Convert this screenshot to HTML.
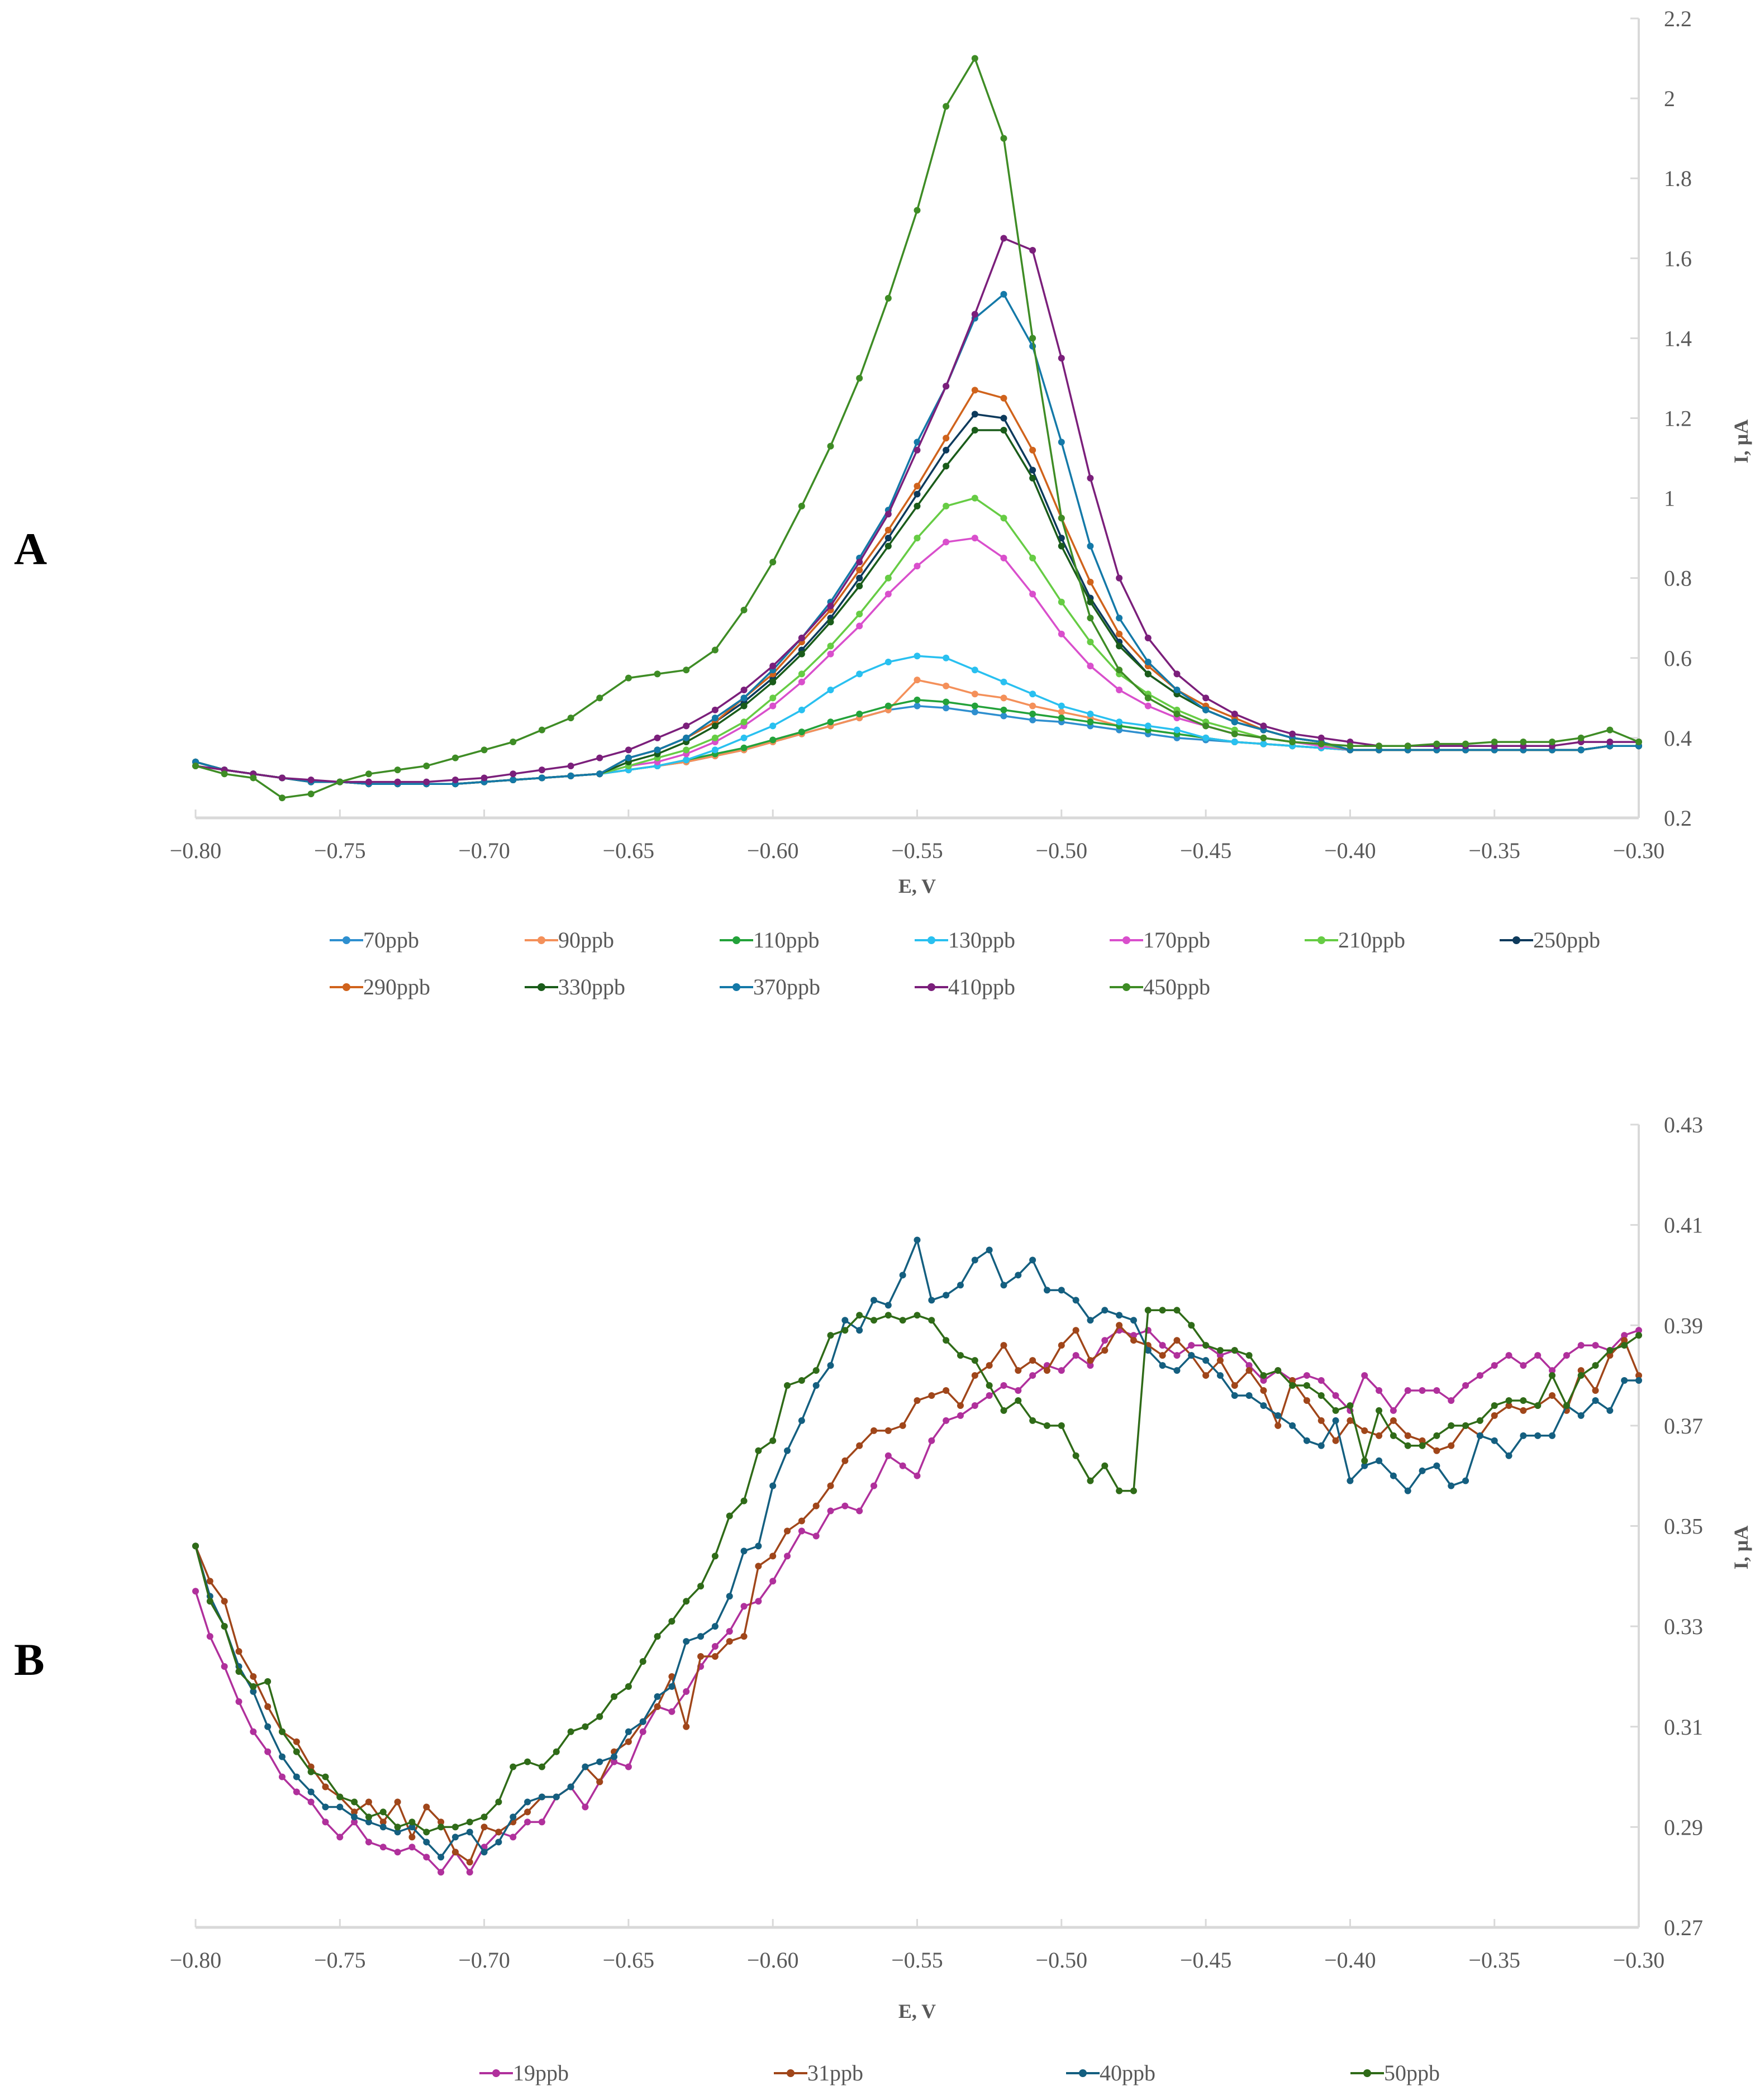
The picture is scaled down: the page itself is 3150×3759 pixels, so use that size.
<!DOCTYPE html>
<html><head><meta charset="utf-8"><style>
html,body{margin:0;padding:0;background:#fff}
svg{display:block}
text{font-family:"Liberation Serif",serif}
</style></head><body>
<svg id="chart" width="3150" height="3759" viewBox="0 0 3150 3759" xmlns="http://www.w3.org/2000/svg"></svg>
<script>
// ---------- Panel A data (E from -0.80 to -0.30, step 0.01) ----------
const seriesNamesA = ["70ppb","90ppb","110ppb","130ppb","170ppb","210ppb","250ppb","290ppb","330ppb","370ppb","410ppb","450ppb"];
const colorsA = ["#2e8fcf","#f4905a","#23a23a","#29c0f0","#d94fcc","#66cc44","#0d3a5c","#d0631c","#1a5c1a","#1479a8","#7b1f7b","#3e8c25"];
const headA = [.34,.32,.31,.30,.29,.29,.285,.285,.285,.285,.29,.295,.30,.305,.31];
const tailA = [.37,.37,.37,.37,.37,.37,.37,.37,.37,.38,.38];
const mid70 = [.32,.33,.34,.355,.37,.39,.41,.43,.45,.47,.48,.475,.465,.455,.445,.44,.43,.42,.41,.40,.395,.39,.385,.38,.375];
const mid90 = [.32,.33,.34,.355,.37,.39,.41,.43,.45,.47,.545,.53,.51,.50,.48,.465,.45,.43,.42,.41,.40,.39,.385,.38,.375];
const mid110 = [.32,.33,.345,.36,.375,.395,.415,.44,.46,.48,.495,.49,.48,.47,.46,.45,.44,.43,.42,.41,.40,.39,.385,.38,.375];
const mid130 = [.32,.33,.345,.37,.40,.43,.47,.52,.56,.59,.605,.60,.57,.54,.51,.48,.46,.44,.43,.42,.40,.39,.385,.38,.375];
const mid170 = [.33,.34,.36,.39,.43,.48,.54,.61,.68,.76,.83,.89,.90,.85,.76,.66,.58,.52,.48,.45,.43,.41,.40,.39,.38];
const mid210 = [.33,.35,.37,.40,.44,.50,.56,.63,.71,.80,.90,.98,1.0,.95,.85,.74,.64,.56,.51,.47,.44,.42,.40,.39,.385];
const mid250 = [.35,.37,.40,.44,.49,.55,.62,.70,.80,.90,1.01,1.12,1.21,1.20,1.07,.90,.75,.64,.56,.51,.47,.44,.42,.40,.39];
const mid290 = [.35,.37,.40,.44,.50,.56,.64,.72,.82,.92,1.03,1.15,1.27,1.25,1.12,.95,.79,.66,.58,.52,.48,.45,.42,.40,.39];
const mid330 = [.34,.36,.39,.43,.48,.54,.61,.69,.78,.88,.98,1.08,1.17,1.17,1.05,.88,.74,.63,.56,.51,.47,.44,.42,.40,.39];
const mid370 = [.35,.37,.40,.45,.50,.57,.65,.74,.85,.97,1.14,1.28,1.45,1.51,1.38,1.14,.88,.70,.59,.52,.47,.44,.42,.40,.39];
const head410 = [.33,.32,.31,.30,.295,.29,.29,.29,.29,.295,.30,.31,.32,.33,.35];
const mid410 = [.37,.40,.43,.47,.52,.58,.65,.73,.84,.96,1.12,1.28,1.46,1.65,1.62,1.35,1.05,.80,.65,.56,.50,.46,.43,.41,.40];
const tail410 = [.39,.38,.38,.38,.38,.38,.38,.38,.39,.39,.39];
const values450 = [.33,.31,.30,.25,.26,.29,.31,.32,.33,.35,.37,.39,.42,.45,.50,.55,.56,.57,.62,.72,.84,.98,1.13,1.30,1.50,1.72,1.98,2.10,1.90,1.40,.95,.70,.57,.50,.46,.43,.41,.40,.39,.385,.38,.38,.38,.385,.385,.39,.39,.39,.40,.42,.39];
const xTicksA = ["−0.80","−0.75","−0.70","−0.65","−0.60","−0.55","−0.50","−0.45","−0.40","−0.35","−0.30"];
const yTicksA = ["0.2","0.4","0.6","0.8","1","1.2","1.4","1.6","1.8","2","2.2"];

// ---------- Panel B data (E from -0.80 to -0.30, step 0.005) ----------
const seriesNamesB = ["19ppb","31ppb","40ppb","50ppb"];
const colorsB = ["#b0309c","#a0461a","#145f80","#2f6b18"];
const values19 = [.337,.328,.322,.315,.309,.305,.300,.297,.295,.291,.288,.291,.287,.286,.285,.286,.284,.281,.285,.281,.286,.289,.288,.291,.291,.296,.298,.294,.299,.303,.302,.309,.314,.313,.317,.322,.326,.329,.334,.335,.339,.344,.349,.348,.353,.354,.353,.358,.364,.362,.360,.367,.371,.372,.374,.376,.378,.377,.380,.382,.381,.384,.382,.387,.389,.388,.389,.386,.384,.386,.386,.384,.385,.382,.379,.381,.379,.380,.379,.376,.373,.380,.377,.373,.377,.377,.377,.375,.378,.380,.382,.384,.382,.384,.381,.384,.386,.386,.385,.388,.389];
const values31 = [.346,.339,.335,.325,.320,.314,.309,.307,.302,.298,.296,.293,.295,.291,.295,.288,.294,.291,.285,.283,.290,.289,.291,.293,.296,.296,.298,.302,.299,.305,.307,.311,.314,.320,.310,.324,.324,.327,.328,.342,.344,.349,.351,.354,.358,.363,.366,.369,.369,.370,.375,.376,.377,.374,.380,.382,.386,.381,.383,.381,.386,.389,.383,.385,.390,.387,.386,.384,.387,.384,.380,.383,.378,.381,.377,.370,.379,.375,.371,.367,.371,.369,.368,.371,.368,.367,.365,.366,.370,.368,.372,.374,.373,.374,.376,.373,.381,.377,.384,.387,.380];
const values40 = [.346,.336,.330,.322,.317,.310,.304,.300,.297,.294,.294,.292,.291,.290,.289,.290,.287,.284,.288,.289,.285,.287,.292,.295,.296,.296,.298,.302,.303,.304,.309,.311,.316,.318,.327,.328,.330,.336,.345,.346,.358,.365,.371,.378,.382,.391,.389,.395,.394,.400,.407,.395,.396,.398,.403,.405,.398,.400,.403,.397,.397,.395,.391,.393,.392,.391,.385,.382,.381,.384,.383,.380,.376,.376,.374,.372,.370,.367,.366,.371,.359,.362,.363,.360,.357,.361,.362,.358,.359,.368,.367,.364,.368,.368,.368,.374,.372,.375,.373,.379,.379];
const values50 = [.346,.335,.330,.321,.318,.319,.309,.305,.301,.300,.296,.295,.292,.293,.290,.291,.289,.290,.290,.291,.292,.295,.302,.303,.302,.305,.309,.310,.312,.316,.318,.323,.328,.331,.335,.338,.344,.352,.355,.365,.367,.378,.379,.381,.388,.389,.392,.391,.392,.391,.392,.391,.387,.384,.383,.378,.373,.375,.371,.370,.370,.364,.359,.362,.357,.357,.393,.393,.393,.390,.386,.385,.385,.384,.380,.381,.378,.378,.376,.373,.374,.363,.373,.368,.366,.366,.368,.370,.370,.371,.374,.375,.375,.374,.380,.374,.380,.382,.385,.386,.388];
const xTicksB = ["−0.80","−0.75","−0.70","−0.65","−0.60","−0.55","−0.50","−0.45","−0.40","−0.35","−0.30"];
const yTicksB = ["0.27","0.29","0.31","0.33","0.35","0.37","0.39","0.41","0.43"];

const NS = "http://www.w3.org/2000/svg";
const svg = document.getElementById("chart");
function mk(tag, attrs, parent, txt){
  const e = document.createElementNS(NS, tag);
  for (const k in attrs) e.setAttribute(k, attrs[k]);
  if (txt !== undefined) e.textContent = txt;
  (parent || svg).appendChild(e);
  return e;
}
const X0 = 350, X1 = 2933;
const xScale = v => X0 + (v + 0.80) / 0.50 * (X1 - X0);

function drawPanel(cfg){
  const yScale = v => cfg.yBot - (v - cfg.yMin) / (cfg.yMax - cfg.yMin) * (cfg.yBot - cfg.yTop);
  const g = mk("g", {});
  
  
  // axes
  const xa = mk("line", {x1:X0, y1:cfg.yBot, x2:X1, y2:cfg.yBot, stroke:"#d9d9d9", "stroke-width":5}, g);
  
  
  const ya = mk("line", {x1:X1, y1:cfg.yTop, x2:X1, y2:cfg.yBot, stroke:"#d9d9d9", "stroke-width":4}, g);
  
  
  cfg.xTicks.forEach((lab, i) => {
    const xv = xScale(-0.80 + i * 0.05);
    mk("line", {x1:xv, y1:cfg.yBot - 15, x2:xv, y2:cfg.yBot, stroke:"#d9d9d9", "stroke-width":3}, g);
    const t = mk("text", {x:xv, y:cfg.yBot + 72, "text-anchor":"middle", "font-size":40, fill:"#595959"}, g, lab);
    
    
  });
  cfg.yTicks.forEach((lab) => {
    const yv = yScale(parseFloat(lab));
    mk("line", {x1:X1 - 15, y1:yv, x2:X1, y2:yv, stroke:"#d9d9d9", "stroke-width":3}, g);
    const t = mk("text", {x:X1 + 45, y:yv + 14, "text-anchor":"start", "font-size":40, fill:"#595959"}, g, lab);
    
    
  });
  const xt = mk("text", {x:(X0+X1)/2, y:cfg.xTitleY, "text-anchor":"middle", "font-size":36, "font-weight":"bold", fill:"#595959"}, g, "E, V");
  
  
  const yt = mk("text", {x:0, y:0, "text-anchor":"middle", "font-size":36, "font-weight":"bold", fill:"#595959", transform:`translate(3128,${cfg.yTitleY}) rotate(-90)`}, g, "I, µA");
  
  
  const pl = mk("text", {x:25, y:cfg.panelY, "font-size":82, "font-weight":"bold", fill:"#000"}, g, cfg.panel);
  
  
  // series
  cfg.series.forEach((vals, si) => {
    const col = cfg.colors[si];
    const n = vals.length;
    const step = 0.50 / (n - 1);
    const sg = mk("g", {}, g);
    
    
    const pts = vals.map((v, i) => xScale(-0.80 + i * step).toFixed(1) + "," + yScale(v).toFixed(1)).join(" ");
    const line = mk("polyline", {points:pts, fill:"none", stroke:col, "stroke-width":3.5, "stroke-linejoin":"round"}, sg);
    
    
    vals.forEach((v, i) => {
      const c = mk("circle", {cx:xScale(-0.80 + i * step), cy:yScale(v), r:cfg.r, fill:col}, sg);
      
      
    });
  });
  // legend
  cfg.names.forEach((nm, i) => {
    const lx = cfg.legendX[i], ly = cfg.legendY[i];
    const lg = mk("g", {}, g);
    
    
    mk("line", {x1:lx - 30, y1:ly, x2:lx + 30, y2:ly, stroke:cfg.colors[i], "stroke-width":4}, lg);
    mk("circle", {cx:lx, cy:ly, r:7, fill:cfg.colors[i]}, lg);
    mk("text", {x:lx + 30, y:ly + 13, "font-size":40, fill:"#595959"}, lg, nm);
  });
}

const seriesA = [
  headA.concat(mid70, tailA), headA.concat(mid90, tailA), headA.concat(mid110, tailA),
  headA.concat(mid130, tailA), headA.concat(mid170, tailA), headA.concat(mid210, tailA),
  headA.concat(mid250, tailA), headA.concat(mid290, tailA), headA.concat(mid330, tailA),
  headA.concat(mid370, tailA), head410.concat(mid410, tail410), values450
];
const lxA = [], lyA = [];
for (let i = 0; i < 12; i++){ lxA.push(620 + (i % 7) * 349); lyA.push(i < 7 ? 1683 : 1767); }
drawPanel({name:"panel-a", panel:"A", panelY:1010, yMin:0.2, yMax:2.2, yTop:33, yBot:1464,
  xTicks:xTicksA, yTicks:yTicksA, xTitleY:1598, yTitleY:790, series:seriesA, colors:colorsA,
  names:seriesNamesA, r:6, legendX:lxA, legendY:lyA});

drawPanel({name:"panel-b", panel:"B", panelY:2998, yMin:0.27, yMax:0.43, yTop:2013, yBot:3450,
  xTicks:xTicksB, yTicks:yTicksB, xTitleY:3612, yTitleY:2770, series:[values19, values31, values40, values50],
  colors:colorsB, names:seriesNamesB, r:6, legendX:[888,1415,1938,2447], legendY:[3711,3711,3711,3711]});
</script>
</body></html>
